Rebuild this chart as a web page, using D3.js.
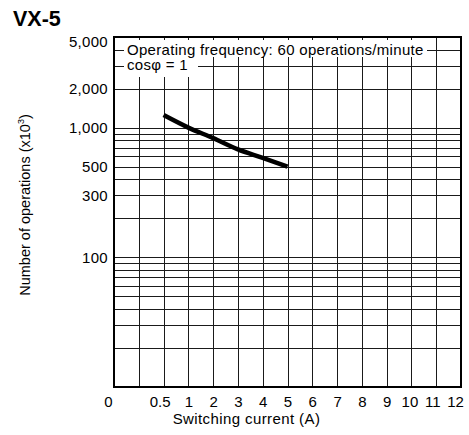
<!DOCTYPE html>
<html>
<head>
<meta charset="utf-8">
<script src="https://cdn.jsdelivr.net/npm/d3@7"></script>
<style>
  html, body { margin: 0; padding: 0; background: #fff; }
  svg { display: block; font-family: "Liberation Sans", Arial, Helvetica, sans-serif; }
</style>
</head>
<body>
<script>
// ---- data ----
const title = "VX-5";
const xTickValues = [0, 0.25, 0.5, 1, 2, 3, 4, 5, 6, 7, 8, 9, 10, 11, 12];
const xTickLabels = ["0", "", "0.5", "1", "2", "3", "4", "5", "6", "7", "8", "9", "10", "11", "12"];
const yTickValues = [5000, 2000, 1000, 500, 300, 100];
const yTickLabels = ["5,000", "2,000", "1,000", "500", "300", "100"];
const yGridValues = [20, 30, 40, 50, 60, 70, 80, 90, 100, 200, 300, 400, 500, 600, 700, 800, 900, 1000, 2000, 3000, 4000];
const currentA = [0.5, 1, 2, 3, 4, 5];
const operations = [1250, 1000, 830, 680, 585, 500];
const note1 = "Operating frequency: 60 operations/minute";
const note2 = "cos\u03c6 = 1";
const xTitle = "Switching current (A)";

// ---- layout ----
const W = 469, H = 435;
const pLeft = 114, pRight = 461, pTop = 37, pBottom = 387;
const step = (pRight - pLeft) / 14;

const svg = d3.select("body").append("svg").attr("width", W).attr("height", H);

const x = d3.scaleLinear()
  .domain([0, 0.5, 1, 12])
  .range([pLeft, pLeft + 2 * step, pLeft + 3 * step, pRight]);
const y = d3.scaleLog().domain([10, 5000]).range([pBottom, pTop]);

const grid = svg.append("g").attr("stroke", "#1a1a1a").attr("stroke-width", 1);
grid.selectAll("line.h").data(yGridValues).join("line")
  .attr("x1", pLeft).attr("x2", pRight)
  .attr("y1", d => Math.round(y(d)) + 0.5).attr("y2", d => Math.round(y(d)) + 0.5);
grid.selectAll("line.v").data(xTickValues.slice(1, -1)).join("line")
  .attr("y1", pTop).attr("y2", pBottom)
  .attr("x1", d => Math.round(x(d)) + 0.5).attr("x2", d => Math.round(x(d)) + 0.5);

// notes with white background
const bg = svg.append("g");
const nt = svg.append("g").attr("font-size", 15).attr("letter-spacing", 0.3);
bg.append("rect").attr("x", 124).attr("y", 40).attr("width", 303).attr("height", 17).attr("fill", "#fff");
bg.append("rect").attr("x", 124).attr("y", 57).attr("width", 74).attr("height", 20).attr("fill", "#fff");
nt.append("text").attr("x", 127).attr("y", y(4000)).attr("dy", "0.35em").text(note1);
nt.append("text").attr("x", 127).attr("y", y(3000)).attr("dy", "0.3em").text(note2);

// frame
svg.append("rect").attr("x", pLeft).attr("y", pTop).attr("width", pRight - pLeft).attr("height", pBottom - pTop)
  .attr("fill", "none").attr("stroke", "#000").attr("stroke-width", 2);

// curve
const line = d3.line().x((d, i) => x(currentA[i])).y(d => y(d)).curve(d3.curveMonotoneX);
svg.append("path").datum(operations).attr("d", line)
  .attr("fill", "none").attr("stroke", "#000").attr("stroke-width", 4.5);

// x axis labels
const xAxis = d3.axisBottom(x).tickValues(xTickValues)
  .tickFormat((d, i) => xTickLabels[i]).tickSize(0).tickPadding(9);
const gx = svg.append("g").attr("transform", `translate(0,${pBottom})`).call(xAxis);
gx.select(".domain").remove();
gx.selectAll("text").attr("font-size", 15).attr("fill", "#000")
  .attr("font-family", "'Liberation Sans', Arial, sans-serif")
  .attr("dx", (d) => d === 0 ? -6 : (d === 0.5 ? -4 : (d >= 10 ? -2 - (d - 10) * 2 : 0)));

// y axis labels
const yAxis = d3.axisLeft(y).tickValues(yTickValues)
  .tickFormat((d, i) => yTickLabels[i]).tickSize(0).tickPadding(6);
const gy = svg.append("g").attr("transform", `translate(${pLeft},0)`).call(yAxis);
gy.select(".domain").remove();
gy.selectAll("text").attr("font-size", 15).attr("fill", "#000").attr("letter-spacing", 0.3)
  .attr("font-family", "'Liberation Sans', Arial, sans-serif")
  .attr("dy", d => d === 5000 ? "0.6em" : "0.35em");

// titles
svg.append("text").attr("x", 13).attr("y", 26).attr("font-size", 21.5).attr("font-weight", "bold").text(title);
svg.append("text").attr("x", (170 + 323) / 2).attr("y", 424).attr("text-anchor", "middle")
  .attr("font-size", 15).attr("letter-spacing", 0.4).text(xTitle);
const yt = svg.append("text").attr("transform", "translate(30,205) rotate(-90)")
  .attr("text-anchor", "middle").attr("font-size", 14.5);
yt.append("tspan").text("Number of operations (x10");
yt.append("tspan").attr("font-size", 9).attr("dy", -6).text("3");
yt.append("tspan").attr("dy", 6).text(")");
</script>
</body>
</html>
